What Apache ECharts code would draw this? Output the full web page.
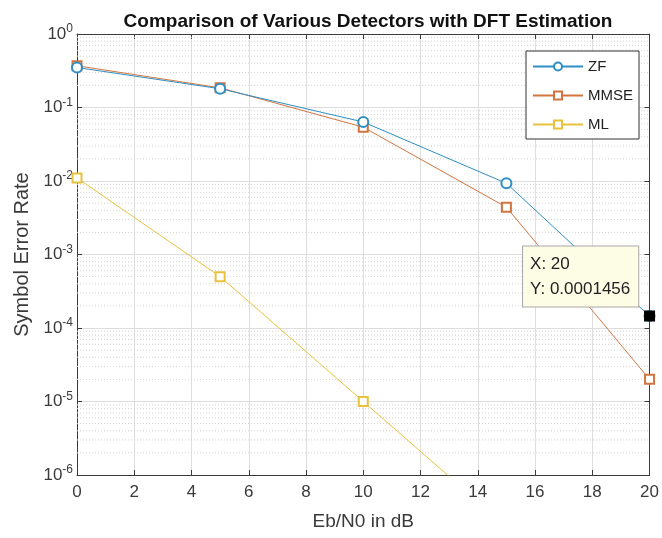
<!DOCTYPE html>
<html><head><meta charset="utf-8">
<script src="https://cdn.jsdelivr.net/npm/echarts@6/dist/echarts.min.js"></script>
<style>html,body{margin:0;padding:0;background:#fff}#c{width:662px;height:538px}</style>
</head><body><div id="c"></div>
<script>
const snr = [0, 5, 10, 15, 20];
const zf = [0.35, 0.18, 0.0635, 0.0093, 0.0001456];
const mmse = [0.37, 0.185, 0.054, 0.0044, 0.00002];
const ml = [0.011, 0.0005, 0.00001, 0.0000002, null];
const xTicks = [0, 2, 4, 6, 8, 10, 12, 14, 16, 18, 20];
const minorMantissa = [2, 3, 4, 5, 6, 7, 8, 9];
const decades = [-6, -5, -4, -3, -2, -1];
const tipPoint = [20, 0.0001456];

const font = 'Liberation Sans, Arial, sans-serif';
const axisColor = '#3a3a3a';
const pairs = (ys) => snr.map((x, i) => [x, ys[i] == null ? '-' : ys[i]]);

const minorData = [];
decades.forEach(k => minorMantissa.forEach(m => {
  const v = m * Math.pow(10, k);
  minorData.push([0, v], [20, v], [20, '-']);
}));

const chart = echarts.init(document.getElementById('c'));
chart.setOption({
  animation: false,
  backgroundColor: '#fff',
  title: {
    text: 'Comparison of Various Detectors with DFT Estimation',
    left: 363, top: 7, textAlign: 'center',
    textStyle: { fontFamily: font, fontSize: 19, fontWeight: 'bold', color: '#111' }
  },
  grid: { left: 77, right: 8, top: 34, bottom: 63 },
  legend: {
    orient: 'vertical', left: 526, top: 51,
    padding: [8, 6, 7, 6], itemWidth: 50, itemHeight: 10, itemGap: 14,
    backgroundColor: '#fff', borderColor: '#333', borderWidth: 1,
    textStyle: { fontFamily: font, fontSize: 15, color: '#222' },
    data: ['ZF', 'MMSE', 'ML']
  },
  xAxis: [{
    type: 'value', min: 0, max: 20, interval: 2,
    name: 'Eb/N0 in dB', nameLocation: 'middle', nameGap: 37,
    nameTextStyle: { fontFamily: font, fontSize: 19, color: axisColor },
    axisLine: { show: true, onZero: false, lineStyle: { color: axisColor } },
    axisTick: { show: true, inside: true, length: 5, lineStyle: { color: axisColor } },
    axisLabel: { fontFamily: font, fontSize: 17, color: axisColor, margin: 9,
      formatter: v => xTicks.includes(v) ? String(v) : '' },
    splitLine: { show: true, lineStyle: { color: '#dedede', width: 1 } }
  }, {
    type: 'value', position: 'top', min: 0, max: 20, interval: 2,
    axisLine: { show: true, onZero: false, lineStyle: { color: axisColor } },
    axisTick: { show: true, inside: true, length: 5, lineStyle: { color: axisColor } },
    axisLabel: { show: false }, splitLine: { show: false }
  }],
  yAxis: [{
    type: 'log', logBase: 10, min: 1e-6, max: 1, splitNumber: 6,
    name: 'Symbol Error Rate', nameLocation: 'middle', nameGap: 45,
    nameTextStyle: { fontFamily: font, fontSize: 20, color: axisColor },
    axisLine: { show: true, onZero: false, lineStyle: { color: axisColor } },
    axisTick: { show: true, inside: true, length: 5, lineStyle: { color: axisColor } },
    axisLabel: {
      margin: 4,
      formatter: v => '{b|10}{s|' + Math.round(Math.log10(v)) + '}',
      rich: {
        b: { fontFamily: font, fontSize: 17, color: axisColor, lineHeight: 22 },
        s: { fontFamily: font, fontSize: 12, color: axisColor, verticalAlign: 'top' }
      }
    },
    splitLine: { show: true, lineStyle: { color: '#dedede', width: 1 } }
  }, {
    type: 'log', logBase: 10, min: 1e-6, max: 1, splitNumber: 6, position: 'right',
    axisLine: { show: true, onZero: false, lineStyle: { color: axisColor } },
    axisTick: { show: true, inside: true, length: 5, lineStyle: { color: axisColor } },
    axisLabel: { show: false }, splitLine: { show: false }
  }],
  series: [{
    name: 'minor', type: 'line', data: minorData, silent: true, z: 1,
    symbol: 'none', connectNulls: false,
    lineStyle: { type: [1, 2], color: '#d2d2d2', width: 1 }
  }, {
    name: 'ZF', type: 'line', data: pairs(zf), z: 4,
    symbol: 'emptyCircle', symbolSize: 10,
    lineStyle: { width: 1, color: '#2f8fc4' }, itemStyle: { color: '#2f8fc4', borderWidth: 1 },
    markPoint: {
      symbol: 'rect', symbolSize: 11, silent: true,
      itemStyle: { color: '#000' },
      data: [{ coord: tipPoint }],
      label: {
        show: true, position: [-121, -64],
        formatter: 'X: ' + tipPoint[0] + '\nY: ' + tipPoint[1],
        fontFamily: font, fontSize: 17, color: '#222', lineHeight: 25,
        backgroundColor: '#fdfde6', borderColor: '#a8a8a8', borderWidth: 1,
        padding: [5, 8, 5, 7], align: 'left', verticalAlign: 'top'
      }
    }
  }, {
    name: 'MMSE', type: 'line', data: pairs(mmse), z: 3,
    symbol: 'emptyRect', symbolSize: 9,
    lineStyle: { width: 1, color: '#d2743f' }, itemStyle: { color: '#d2743f', borderWidth: 1 }
  }, {
    name: 'ML', type: 'line', data: pairs(ml), z: 3, connectNulls: false,
    symbol: 'emptyRect', symbolSize: 9,
    lineStyle: { width: 1, color: '#e8c23c' }, itemStyle: { color: '#e8c23c', borderWidth: 1 }
  }]
});
</script></body></html>
